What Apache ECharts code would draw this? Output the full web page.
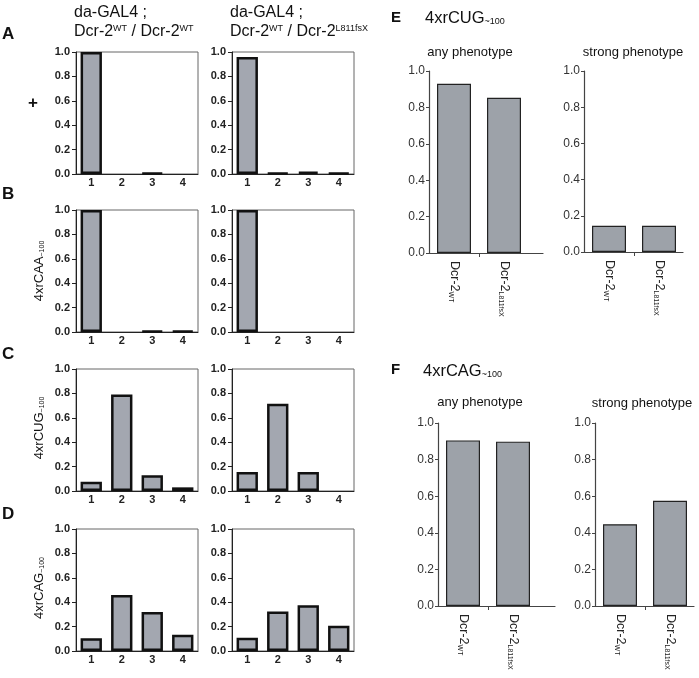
<!DOCTYPE html>
<html><head><meta charset="utf-8">
<script src="https://cdn.jsdelivr.net/npm/echarts@6/dist/echarts.min.js"></script>
<style>html,body{margin:0;padding:0;background:#fff}#c{width:699px;height:678px}</style>
</head><body><div id="c"></div>
<script>
// ---- data ----
const classes = ['1', '2', '3', '4'];
const plusWT = [1.0, 0, 0.01, 0];
const plusL811 = [0.96, 0.01, 0.02, 0.01];
const caaWT = [1.0, 0, 0.01, 0.01];
const caaL811 = [1.0, 0, 0, 0];
const cugWT = [0.076, 0.79, 0.13, 0.03];
const cugL811 = [0.155, 0.715, 0.155, 0];
const cagWT = [0.105, 0.46, 0.32, 0.133];
const cagL811 = [0.108, 0.324, 0.376, 0.207];
const genotypeBase = ['Dcr-2', 'Dcr-2'];
const genotypeSup = ['WT', 'L811fsX'];
const cugAny = [0.93, 0.853];
const cugStrong = [0.145, 0.145];
const cagAny = [0.905, 0.898];
const cagStrong = [0.447, 0.575];

const FF = 'Liberation Sans, Arial, sans-serif';
const grids = [], xAxes = [], yAxes = [], series = [];

function leftPanel(left, top, data) {
  const i = grids.length;
  grids.push({left, top, width: 122, height: 122, show: true, borderColor: '#666', borderWidth: 1});
  xAxes.push({gridIndex: i, type: 'category', data: classes,
    axisLine: {lineStyle: {color: '#222', width: 1}},
    axisTick: {alignWithLabel: true, length: 3, lineStyle: {color: '#222'}},
    axisLabel: {fontSize: 11, fontWeight: 'bold', color: '#222', margin: 3, fontFamily: FF}});
  yAxes.push({gridIndex: i, type: 'value', min: 0, max: 1, interval: 0.2,
    splitLine: {show: false},
    axisLine: {show: true, lineStyle: {color: '#222', width: 1}},
    axisTick: {show: true, length: 4, lineStyle: {color: '#222'}},
    axisLabel: {formatter: v => v.toFixed(1), fontSize: 11, fontWeight: 'bold', color: '#222', margin: 6, fontFamily: FF}});
  series.push({type: 'bar', xAxisIndex: i, yAxisIndex: i, barWidth: '70%',
    data: data.map(v => v === 0 ? '-' : v),
    itemStyle: {color: '#a3a7b0', borderColor: '#111', borderWidth: 2.5}});
}

function rightPanel(left, top, width, height, data) {
  const i = grids.length;
  const maxX = width / 50;
  grids.push({left, top, width, height});
  xAxes.push({gridIndex: i, type: 'value', min: 0, max: maxX,
    splitLine: {show: false},
    axisLine: {show: true, onZero: false, lineStyle: {color: '#444', width: 1.2}},
    axisTick: {show: true, customValues: [1], length: 4, lineStyle: {color: '#444'}},
    axisLabel: {customValues: genotypeBase.map((g, k) => k + 0.5), rotate: -90, margin: 8,
      fontSize: 12.5, color: '#222', fontFamily: FF,
      formatter: v => { const k = Math.round(v - 0.5); return genotypeBase[k] + '{sub|' + genotypeSup[k] + '}'; },
      rich: {sub: {fontSize: 7, verticalAlign: 'bottom', fontFamily: FF, color: '#222'}}}});
  yAxes.push({gridIndex: i, type: 'value', min: 0, max: 1, interval: 0.2,
    splitLine: {show: false},
    axisLine: {show: true, lineStyle: {color: '#444', width: 1.2}},
    axisTick: {show: true, length: 3, lineStyle: {color: '#444'}},
    axisLabel: {formatter: v => v.toFixed(1), fontSize: 12, color: '#333', margin: 4, fontFamily: FF}});
  series.push({type: 'bar', xAxisIndex: i, yAxisIndex: i, barWidth: 34,
    data: data.map((v, k) => [k + 0.5, v]),
    itemStyle: {color: '#9da2a9', borderColor: '#222', borderWidth: 1.2}});
}

leftPanel(76, 52, plusWT);
leftPanel(232, 52, plusL811);
leftPanel(76, 210, caaWT);
leftPanel(232, 210, caaL811);
leftPanel(76, 369, cugWT);
leftPanel(232, 369, cugL811);
leftPanel(76, 529, cagWT);
leftPanel(232, 529, cagL811);
rightPanel(429, 71, 114, 182, cugAny);
rightPanel(584, 71, 99, 181, cugStrong);
rightPanel(438, 423, 117, 183, cagAny);
rightPanel(595, 423, 99, 183, cagStrong);

function txt(x, y, text, size, opts) {
  opts = opts || {};
  return {type: 'text', x, y, rotation: opts.rotation || 0, silent: true,
    style: {text, fontSize: size, fontFamily: FF, fontWeight: opts.bold ? 'bold' : 'normal',
      fill: '#111', align: opts.align || 'left', verticalAlign: 'middle',
      rich: {sup: {fontSize: Math.round(size * 0.58), verticalAlign: 'top', fontFamily: FF, fill: '#111'},
             sub: {fontSize: Math.round(size * 0.52), verticalAlign: 'bottom', fontFamily: FF, fill: '#111'},
             base: {fontSize: size, fontFamily: FF, fill: '#111'}}}};
}

const graphics = [
  txt(74, 13, 'da-GAL4 ;', 16),
  txt(74, 32, '{base|Dcr-2}{sup|WT}{base| / Dcr-2}{sup|WT}', 16),
  txt(230, 13, 'da-GAL4 ;', 16),
  txt(230, 32, '{base|Dcr-2}{sup|WT}{base| / Dcr-2}{sup|L811fsX}', 16),
  txt(2, 34, 'A', 17, {bold: true}),
  txt(2, 194, 'B', 17, {bold: true}),
  txt(2, 354, 'C', 17, {bold: true}),
  txt(2, 514, 'D', 17, {bold: true}),
  txt(33, 103, '+', 17, {bold: true, align: 'center'}),
  txt(39, 271, '{base|4xrCAA}{sub|~100}', 13, {align: 'center', rotation: Math.PI / 2}),
  txt(39, 428, '{base|4xrCUG}{sub|~100}', 13, {align: 'center', rotation: Math.PI / 2}),
  txt(39, 588, '{base|4xrCAG}{sub|~100}', 13, {align: 'center', rotation: Math.PI / 2}),
  txt(391, 18, 'E', 15, {bold: true}),
  txt(425, 18, '{base|4xrCUG}{sub|~100}', 16.5),
  txt(470, 52, 'any phenotype', 13, {align: 'center'}),
  txt(633, 52, 'strong phenotype', 13, {align: 'center'}),
  txt(391, 370, 'F', 15, {bold: true}),
  txt(423, 371, '{base|4xrCAG}{sub|~100}', 16.5),
  txt(480, 402, 'any phenotype', 13, {align: 'center'}),
  txt(642, 403, 'strong phenotype', 13, {align: 'center'})
];

const chart = echarts.init(document.getElementById('c'), null, {renderer: 'canvas'});
chart.setOption({
  animation: false,
  backgroundColor: '#fff',
  grid: grids, xAxis: xAxes, yAxis: yAxes, series,
  graphic: graphics
});
</script></body></html>
